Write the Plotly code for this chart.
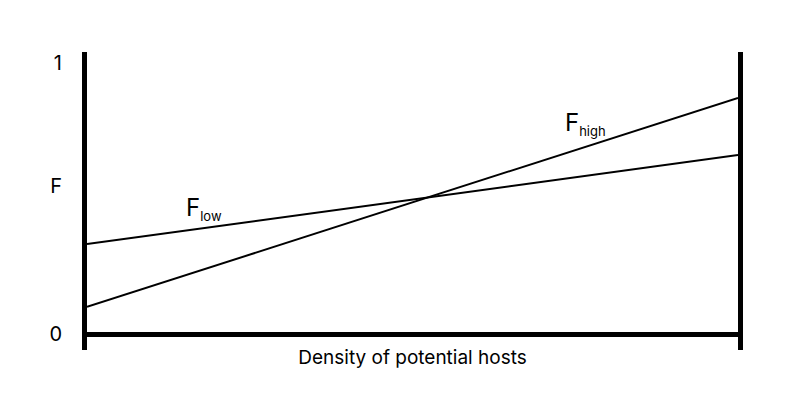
import plotly.graph_objects as go

x_vals = [0, 1]
f_low = [0.332, 0.66]
f_high = [0.10, 0.871]
y_tick_vals = [0, 0.546, 1]
y_tick_text = ["0", "F", "1"]
x_title = "Density of potential hosts"

fig = go.Figure()
fig.add_trace(go.Scatter(x=x_vals, y=f_low, mode="lines",
                         line=dict(color="black", width=2), showlegend=False))
fig.add_trace(go.Scatter(x=x_vals, y=f_high, mode="lines",
                         line=dict(color="black", width=2), showlegend=False))

font = "Inter, Roboto, sans-serif"
sub = "<sub><span style='font-size:13px'>{}</span></sub>"
fig.add_annotation(x=0.18, y=0.462, text="F" + sub.format("low"), showarrow=False,
                   font=dict(family=font, size=24, color="black"))
fig.add_annotation(x=0.765, y=0.778, text="F" + sub.format("high"), showarrow=False,
                   font=dict(family=font, size=24, color="black"))

fig.update_layout(
    width=800, height=400,
    margin=dict(l=79, r=70, t=44, b=58),
    plot_bgcolor="white", paper_bgcolor="white",
    font=dict(family=font, color="black"),
    xaxis=dict(range=[0, 1], showgrid=False, zeroline=False, showline=False,
               showticklabels=False, ticks="", automargin=False,
               title=dict(text=x_title, font=dict(size=19), standoff=0)),
    yaxis=dict(range=[-0.059, 1.04], showgrid=False, automargin=False,
               zeroline=True, zerolinecolor="black", zerolinewidth=5,
               showline=True, linecolor="black", linewidth=5, mirror=True,
               tickvals=y_tick_vals, ticktext=y_tick_text, ticks="outside",
               ticklen=16, tickcolor="white", tickfont=dict(size=20)),
)

fig.write_html("out.html")
